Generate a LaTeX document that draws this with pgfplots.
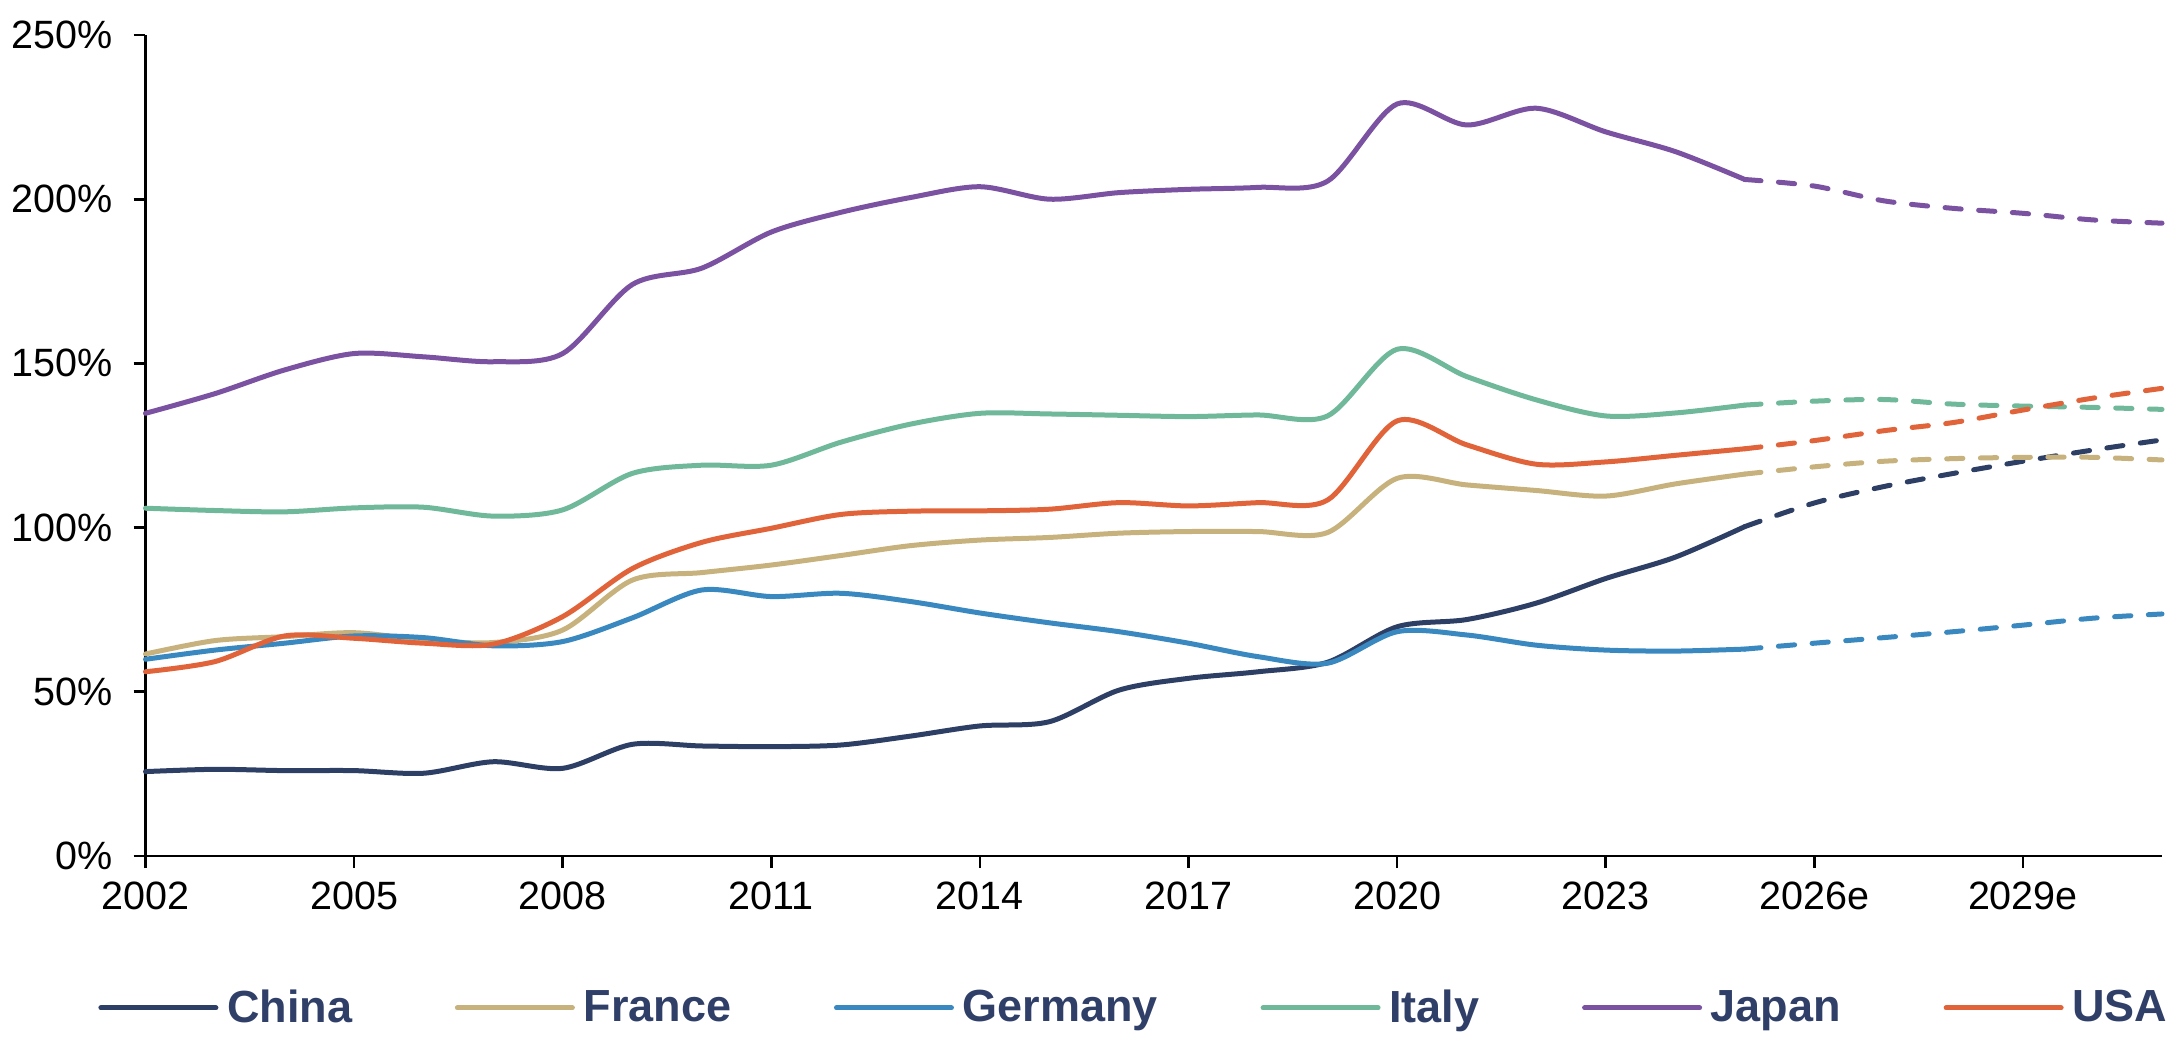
\documentclass[border=0pt]{standalone}
\usepackage{fontspec}
\setmainfont{Liberation Sans}
\usepackage{pgfplots}
\usepackage{pgfplotstable}
\pgfplotsset{compat=1.18}

\definecolor{cChina}{HTML}{2E3F66}
\definecolor{cFrance}{HTML}{C7B27E}
\definecolor{cGermany}{HTML}{3A88C0}
\definecolor{cItaly}{HTML}{6FB89A}
\definecolor{cJapan}{HTML}{7B51A1}
\definecolor{cUSA}{HTML}{E0633A}
\definecolor{cLegend}{HTML}{2F3F68}

% Debt-to-GDP ratios in percent, reported years
\pgfplotstableread{
year China France Germany Italy Japan USA
2002 25.7 61.5 59.9 105.9 134.8 56.1
2003 26.4 65.6 62.7 105.2 140.8 59.2
2004 26.0 66.8 64.8 104.8 148.0 67.0
2005 26.0 68.0 67.0 106.0 153.0 66.3
2006 25.2 65.8 66.5 106.2 152.0 64.8
2007 28.7 65.0 64.0 103.5 150.5 64.5
2008 26.7 68.8 65.3 105.4 153.0 72.9
2009 34.0 84.0 72.5 116.5 174.0 87.5
2010 33.5 86.3 81.0 119.0 179.0 95.5
2011 33.3 88.6 79.0 119.0 190.0 99.8
2012 33.8 91.5 80.0 126.0 196.0 104.0
2013 36.5 94.5 77.5 131.5 200.5 105.0
2014 39.6 96.2 74.0 134.8 203.8 105.1
2015 40.9 97.0 71.0 134.6 200.0 105.6
2016 50.5 98.3 68.3 134.2 202.0 107.6
2017 54.1 98.8 64.8 133.8 203.0 106.6
2018 56.1 98.8 60.7 134.3 203.6 107.6
2019 59.0 98.5 58.7 134.0 205.5 108.4
2020 69.8 115.0 68.3 154.3 229.0 132.5
2021 72.0 113.0 67.3 146.0 222.6 125.2
2022 77.0 111.3 64.2 138.9 227.7 119.3
2023 84.5 109.6 62.7 134.0 220.5 120.0
2024 91.0 113.3 62.4 134.9 214.5 122.0
2025 100.3 116.3 63.0 137.3 206.0 124.0
}\actual

% Projections
\pgfplotstableread{
year China France Germany Italy Japan USA
2025 100.3 116.3 63.0 137.3 206.0 124.0
2026 107.5 118.5 64.8 138.5 204.0 126.5
2027 112.5 120.2 66.5 139.0 199.5 129.5
2028 116.5 121.0 68.3 137.6 197.2 132.0
2029 120.2 121.4 70.3 137.0 195.7 135.8
2030 123.6 121.4 72.4 136.6 193.7 139.4
2031 126.7 120.6 73.7 136.0 192.7 142.4
}\forecast

\begin{document}
\begin{tikzpicture}
\path[use as bounding box] (-58.2pt,-75.2pt) rectangle (814.6pt,342.4pt);
\begin{axis}[
  scale only axis,
  width=806.6pt, height=328.4pt,
  xmin=2002, xmax=2031, ymin=0, ymax=250,
  axis x line*=bottom, axis y line*=left,
  axis line style={line width=1.1pt, black},
  tick align=outside,
  major tick length=4.8pt,
  tick style={line width=1.1pt, black},
  xtick={2002,2005,...,2029},
  xticklabels={2002,2005,2008,2011,2014,2017,2020,2023,2026e,2029e},
  ytick={0,50,...,250},
  yticklabels={0\%,50\%,100\%,150\%,200\%,250\%},
  /pgf/number format/assume math mode=true,
  tick label style={font=\fontsize{15.8pt}{18pt}\selectfont, text=black},
  xticklabel style={yshift=-2pt},
  yticklabel style={xshift=-5pt},
  clip=false,
  every axis plot/.append style={line width=2pt, line cap=round, smooth},
  legend columns=6,
  legend cell align=left,
  legend image code/.code={\draw[#1, line width=2pt, solid] (0pt,0pt) -- (46pt,0pt);},
  legend style={
    at={(-0.0236,-0.185)}, anchor=west,
    draw=none, fill=none, inner sep=0pt,
    font=\fontsize{18pt}{20pt}\selectfont\bfseries,
    text=cLegend,
    nodes={inner sep=0pt},
    /tikz/every odd column/.append style={column sep=3.5pt},
    /tikz/every even column/.append style={column sep=41.1pt},
  },
]
\addplot[cChina]   table[x=year, y=China]   {\actual};
\addplot[cFrance]  table[x=year, y=France]  {\actual};
\addplot[cGermany] table[x=year, y=Germany] {\actual};
\addplot[cItaly]   table[x=year, y=Italy]   {\actual};
\addplot[cJapan]   table[x=year, y=Japan]   {\actual};
\addplot[cUSA]     table[x=year, y=USA]     {\actual};
\legend{China,France,Germany,Italy,Japan,USA}

\pgfplotsset{forecast/.style={dash pattern=on 6.5pt off 7pt, forget plot}}
\addplot[cChina, forecast]   table[x=year, y=China]   {\forecast};
\addplot[cFrance, forecast]  table[x=year, y=France]  {\forecast};
\addplot[cGermany, forecast] table[x=year, y=Germany] {\forecast};
\addplot[cItaly, forecast]   table[x=year, y=Italy]   {\forecast};
\addplot[cJapan, forecast]   table[x=year, y=Japan]   {\forecast};
\addplot[cUSA, forecast]     table[x=year, y=USA]     {\forecast};
\end{axis}
\end{tikzpicture}
\end{document}
